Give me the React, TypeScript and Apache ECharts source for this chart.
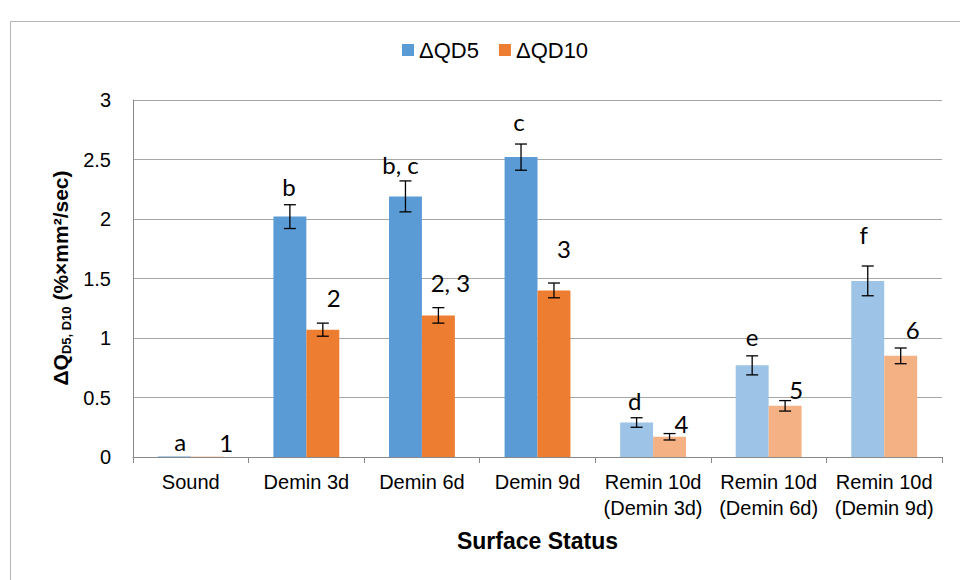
import React, { useEffect, useRef } from "react";
import * as echarts from "echarts";

const categories = [
  "Sound",
  "Demin 3d",
  "Demin 6d",
  "Demin 9d",
  "Remin 10d\n(Demin 3d)",
  "Remin 10d\n(Demin 6d)",
  "Remin 10d\n(Demin 9d)",
];
const qd5 = [0.004, 2.02, 2.19, 2.52, 0.29, 0.77, 1.48];
const qd5Err = [0, 0.1, 0.13, 0.11, 0.04, 0.08, 0.125];
const qd10 = [0.002, 1.07, 1.19, 1.4, 0.17, 0.43, 0.85];
const qd10Err = [0, 0.055, 0.065, 0.062, 0.027, 0.044, 0.066];
const qd5Letters = ["a", "b", "b, c", "c", "d", "e", "f"];
const qd10Letters = ["1", "2", "2, 3", "3", "4", "5", "6"];
const yTicks = [0, 0.5, 1, 1.5, 2, 2.5, 3];

// annotation placement (pixels): horizontal shift from bar centre, gap above error-bar top
const qd5LabelDx = [6, -1, -5, -2, -2, 0, -4];
const qd5LabelGap = [15, 18, 16, 23, 17, 19, 32];
const qd10LabelDx = [19, 11, 12, 10, 12, 11, 12];
const qd10LabelGap = [14, 26, 25, 35, 10, 11, 18];

const BLUE = "#5B9BD5";
const ORANGE = "#ED7D31";
const LIGHT_BLUE = "#9DC3E6";
const LIGHT_ORANGE = "#F4B183";
const GAP = 0.43;
const FONT = "'Liberation Sans', Arial, sans-serif";
const LETTER_FONT = "Lato, 'Open Sans', sans-serif";

const isRemin = (i: number) => categories[i].startsWith("Remin");

function errSeries(name: string, vals: number[], errs: number[], letters: string[], dxs: number[], gaps: number[], sign: number) {
  return {
    type: "custom",
    name,
    z: 5,
    clip: false,
    silent: true,
    data: vals.map((v, i) => [i, v, errs[i]]),
    renderItem: (params: any, api: any) => {
      const i = params.dataIndex;
      const ci = api.value(0);
      const v = api.value(1);
      const e = api.value(2);
      const band = api.size([1, 0])[0];
      const bw = (band * (1 - GAP)) / 2;
      const x = api.coord([ci, 0])[0] + (sign * bw) / 2;
      const top = api.coord([ci, v + e])[1];
      const bot = api.coord([ci, v - e])[1];
      const children: any[] = [];
      const ls = { stroke: "#000", lineWidth: 1.3 };
      if (e > 0) {
        children.push({ type: "line", shape: { x1: x, y1: top, x2: x, y2: bot }, style: ls });
        children.push({ type: "line", shape: { x1: x - 6, y1: top, x2: x + 6, y2: top }, style: ls });
        children.push({ type: "line", shape: { x1: x - 6, y1: bot, x2: x + 6, y2: bot }, style: ls });
      }
      children.push({
        type: "text",
        x: x + dxs[i],
        y: top - gaps[i],
        style: {
          text: letters[i],
          fill: "#000",
          fontSize: 24,
          fontFamily: LETTER_FONT,
          align: "center",
          verticalAlign: "middle",
        },
      });
      return { type: "group", children };
    },
  };
}

export default function App() {
  const ref = useRef<HTMLDivElement>(null);
  useEffect(() => {
    if (!ref.current) return;
    const chart = echarts.init(ref.current, undefined, { renderer: "svg" });
    chart.setOption({
      animation: false,
      backgroundColor: "#fff",
      textStyle: { fontFamily: FONT },
      legend: {
        data: ["ΔQD5", "ΔQD10"],
        left: 397,
        top: 34,
        icon: "rect",
        itemWidth: 12,
        itemHeight: 12,
        itemGap: 20,
        textStyle: { fontSize: 22, color: "#000", fontFamily: FONT },
      },
      grid: { left: 133, right: 18, top: 100, bottom: 123, containLabel: false },
      xAxis: {
        type: "category",
        data: categories,
        axisLine: { show: true, lineStyle: { color: "#898989", width: 1 } },
        axisTick: { show: true, length: 6, lineStyle: { color: "#898989" } },
        axisLabel: { color: "#000", fontSize: 20, lineHeight: 26, margin: 12, interval: 0, fontFamily: FONT },
        name: "Surface Status",
        nameLocation: "middle",
        nameGap: 72,
        nameTextStyle: { fontSize: 23, fontWeight: "bold", color: "#000", fontFamily: FONT },
      },
      yAxis: {
        type: "value",
        min: 0,
        max: 3,
        interval: 0.5,
        axisLine: { show: true, lineStyle: { color: "#898989", width: 1 } },
        axisTick: { show: false },
        splitLine: { show: true, lineStyle: { color: "#a6a6a6", width: 1 } },
        axisLabel: {
          color: "#000",
          fontSize: 20,
          margin: 22,
          fontFamily: FONT,
          formatter: (v: number) => (yTicks.includes(v) ? String(v) : ""),
        },
      },
      graphic: [
        {
          type: "rect",
          shape: { x: 10.5, y: 21.5, width: 1000, height: 700 },
          style: { fill: "none", stroke: "#b5b5b5", lineWidth: 1 },
          silent: true,
          z: -10,
        },
        {
          type: "text",
          x: 60,
          y: 278,
          rotation: Math.PI / 2,
          style: {
            text: "{a|ΔQ}{s|D5, D10}{a| (%×mm²/sec)}",
            align: "center",
            verticalAlign: "middle",
            fill: "#000",
            rich: {
              a: { fontSize: 21, fontWeight: "bold", fontFamily: FONT, lineHeight: 26, verticalAlign: "middle", fill: "#000" },
              s: { fontSize: 13, fontWeight: "bold", fontFamily: FONT, lineHeight: 13, verticalAlign: "bottom", fill: "#000" },
            },
          },
        },
      ],
      series: [
        {
          name: "ΔQD5",
          type: "bar",
          color: BLUE,
          barGap: "0%",
          barCategoryGap: `${GAP * 100}%`,
          data: qd5.map((v, i) => (isRemin(i) ? { value: v, itemStyle: { color: LIGHT_BLUE } } : v)),
        },
        {
          name: "ΔQD10",
          type: "bar",
          color: ORANGE,
          barGap: "0%",
          barCategoryGap: `${GAP * 100}%`,
          data: qd10.map((v, i) => (isRemin(i) ? { value: v, itemStyle: { color: LIGHT_ORANGE } } : v)),
        },
        errSeries("err5", qd5, qd5Err, qd5Letters, qd5LabelDx, qd5LabelGap, -1),
        errSeries("err10", qd10, qd10Err, qd10Letters, qd10LabelDx, qd10LabelGap, 1),
      ],
    });
    return () => chart.dispose();
  }, []);
  return <div ref={ref} style={{ width: 960, height: 580, position: "absolute", left: 0, top: 0 }} />;
}
